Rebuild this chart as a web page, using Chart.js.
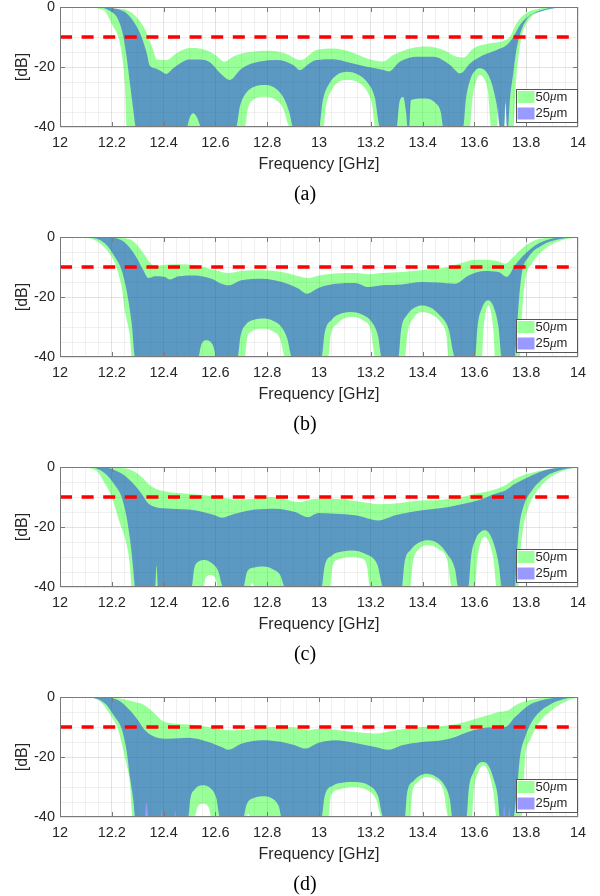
<!DOCTYPE html>
<html>
<head>
<meta charset="utf-8">
<script src="https://cdn.jsdelivr.net/npm/chart.js@4.4.1/dist/chart.umd.min.js"></script>
<style>
  body { margin: 0; background: #fff; }
  #page { position: relative; width: 600px; height: 896px; }
  .panel { position: absolute; left: 0; width: 600px; height: 230px; }
  .cap { position: absolute; left: 0; width: 610px; text-align: center;
         font: 20px "Liberation Serif", "Times New Roman", serif; line-height: 20px; color: #000; }
</style>
</head>
<body>
<div id="page"></div>
<script>
// axis ticks and labels
const xTicks = [12, 12.2, 12.4, 12.6, 12.8, 13, 13.2, 13.4, 13.6, 13.8, 14];
const yTicks = [0, -20, -40];
const specLevel = -10;               // dB, return-loss spec line
const panelLabels = ['(a)', '(b)', '(c)', '(d)'];
const seriesSizes = ['50', '25'];    // tolerance in um

// [frequency GHz, dB] envelopes, upper and lower edge of each band
const aGreenUp = [[12,0],[12.1,0],[12.15,-0.1],[12.2,-0.4],[12.257,-1],[12.3,-3.8],[12.33,-7.7],[12.34,-10],[12.36,-14.3],[12.373,-17.4],[12.41,-17.7],[12.45,-15.4],[12.5,-13.7],[12.55,-14],[12.6,-16],[12.635,-18.2],[12.67,-16.5],[12.72,-15.2],[12.81,-14.6],[12.87,-15.5],[12.93,-17.7],[12.99,-14.3],[13.056,-13.8],[13.12,-14.9],[13.184,-17.1],[13.245,-18.2],[13.287,-16],[13.352,-13.8],[13.416,-13.2],[13.48,-14.3],[13.532,-16.6],[13.557,-16.8],[13.596,-13.8],[13.66,-12.1],[13.71,-11.3],[13.737,-10],[13.763,-5.4],[13.8,-2.1],[13.853,-0.5],[13.9,-0.05],[14,0]];
const aGreenLow = [[12,0],[12.077,0],[12.167,-1],[12.206,-6.6],[12.225,-10],[12.238,-15.4],[12.251,-26.6],[12.257,-40],[12.714,-40],[12.725,-34],[12.745,-31],[12.79,-29.9],[12.83,-30.8],[12.86,-33.5],[12.888,-40],[13.017,-40],[13.027,-33],[13.05,-27.5],[13.075,-25],[13.107,-24.3],[13.15,-25],[13.185,-28],[13.205,-32.5],[13.217,-40],[13.583,-40],[13.592,-31],[13.608,-24.5],[13.622,-22.7],[13.638,-24],[13.652,-28],[13.665,-40],[13.688,-40],[13.692,-33],[13.696,-40],[13.717,-40],[13.721,-31],[13.726,-40],[13.75,-40],[13.76,-25.4],[13.77,-16.6],[13.782,-10],[13.815,-3.8],[13.879,-1],[13.98,0],[14,0]];
const aBlueUp = [[12,0],[12.15,0],[12.2,-0.3],[12.257,-2.1],[12.296,-6.5],[12.315,-10],[12.335,-15.4],[12.347,-19.6],[12.367,-20.4],[12.386,-21.2],[12.41,-22.3],[12.437,-20.4],[12.463,-18.8],[12.5,-17.5],[12.54,-17.5],[12.58,-18.5],[12.618,-22],[12.656,-24.3],[12.695,-21],[12.73,-19.2],[12.772,-18.2],[12.837,-17.7],[12.9,-19.3],[12.927,-21],[12.96,-19],[12.99,-17.7],[13.056,-17.4],[13.12,-18.6],[13.184,-19.9],[13.25,-21],[13.27,-21.5],[13.313,-18.2],[13.377,-16.6],[13.442,-16.6],[13.506,-19.3],[13.545,-22.1],[13.583,-18.8],[13.635,-16],[13.686,-14.3],[13.725,-12.7],[13.75,-10],[13.776,-6],[13.815,-2.7],[13.866,-0.8],[13.943,0],[14,0]];
const aBlueLow = [[12,0],[12.14,0],[12.19,-1.2],[12.225,-4.3],[12.245,-10],[12.257,-16.6],[12.27,-25.4],[12.283,-34.3],[12.293,-40],[12.49,-40],[12.5,-37],[12.515,-35.4],[12.53,-37],[12.545,-40],[12.68,-40],[12.695,-33],[12.72,-28.5],[12.75,-26.6],[12.79,-26],[12.83,-27],[12.865,-30.5],[12.885,-35],[12.9,-40],[13,-40],[13.015,-31],[13.04,-25.5],[13.07,-22.6],[13.107,-21.6],[13.15,-22.5],[13.19,-25.5],[13.215,-30],[13.236,-40],[13.3,-40],[13.31,-32],[13.325,-30],[13.336,-35],[13.342,-40],[13.348,-40],[13.355,-31],[13.4,-30.5],[13.45,-32],[13.47,-35],[13.48,-40],[13.557,-40],[13.567,-31],[13.585,-24],[13.605,-21],[13.622,-20.4],[13.645,-21.5],[13.665,-25],[13.685,-32],[13.7,-40],[13.715,-40],[13.72,-32],[13.725,-40],[13.73,-40],[13.737,-31],[13.75,-22.1],[13.76,-15.4],[13.773,-10],[13.8,-4.3],[13.853,-1.6],[13.943,-0.1],[14,0]];

const bGreenUp = [[12,0],[12.18,0],[12.24,-0.3],[12.277,-1.1],[12.31,-3.9],[12.328,-6.1],[12.347,-8.5],[12.367,-9.8],[12.39,-9.4],[12.444,-9.1],[12.495,-9.2],[12.547,-9.8],[12.6,-11.1],[12.65,-12],[12.7,-11.3],[12.78,-11.1],[12.856,-11.7],[12.933,-13.3],[12.96,-13.7],[13,-12.8],[13.062,-12.2],[13.14,-12],[13.19,-12.4],[13.242,-12],[13.32,-11.7],[13.41,-10.9],[13.5,-10],[13.55,-8.7],[13.603,-7.6],[13.68,-7.8],[13.72,-8.9],[13.744,-7.2],[13.783,-3.9],[13.834,-1.1],[13.912,-0.2],[14,0]];
const bGreenLow = [[12,0],[12.058,0],[12.135,-1.1],[12.187,-5],[12.212,-8.9],[12.238,-16.7],[12.25,-24.4],[12.27,-33.3],[12.277,-40],[12.714,-40],[12.722,-34],[12.74,-31.5],[12.78,-30.6],[12.82,-31.3],[12.85,-34],[12.869,-40],[13.036,-40],[13.045,-33],[13.07,-29],[13.127,-26.7],[13.17,-27.8],[13.2,-31],[13.217,-40],[13.332,-40],[13.342,-32],[13.365,-27],[13.397,-25],[13.435,-25.8],[13.47,-28.5],[13.492,-33],[13.5,-40],[13.629,-40],[13.635,-31],[13.645,-24.5],[13.654,-22.8],[13.663,-24.5],[13.673,-31],[13.68,-40],[13.776,-40],[13.783,-26.7],[13.796,-14.4],[13.822,-8.9],[13.873,-3.9],[13.937,-1.1],[14,-0.1]];
const bBlueUp = [[12,0],[12.17,0],[12.238,-1.1],[12.277,-4.4],[12.302,-7.8],[12.322,-11.1],[12.341,-13.7],[12.367,-13.1],[12.405,-13.3],[12.425,-14.2],[12.457,-13.1],[12.52,-12.8],[12.585,-13.9],[12.624,-15.6],[12.65,-16.1],[12.7,-14.4],[12.78,-13.9],[12.856,-15],[12.92,-17.2],[12.952,-18.9],[13,-16.9],[13.062,-15.6],[13.14,-15.3],[13.19,-16.7],[13.242,-16.1],[13.32,-15.8],[13.397,-15],[13.46,-15.2],[13.525,-15.6],[13.577,-12.8],[13.641,-11.3],[13.693,-11.7],[13.725,-13.3],[13.757,-9.4],[13.796,-5.6],[13.847,-2.2],[13.925,-0.2],[14,0]];
const bBlueLow = [[12,0],[12.11,-0.2],[12.174,-2.2],[12.212,-6.7],[12.238,-11.1],[12.257,-17.8],[12.277,-28.9],[12.29,-40],[12.534,-40],[12.545,-36],[12.566,-34.4],[12.59,-36],[12.605,-40],[12.686,-40],[12.697,-33],[12.72,-29],[12.75,-27.6],[12.785,-27.2],[12.82,-27.8],[12.855,-30],[12.878,-34],[12.895,-40],[13.01,-40],[13.022,-32],[13.05,-27.5],[13.085,-25.5],[13.127,-25],[13.17,-26],[13.205,-28.5],[13.228,-33],[13.242,-40],[13.307,-40],[13.317,-31],[13.34,-26],[13.37,-23.5],[13.397,-22.8],[13.43,-23.5],[13.465,-26],[13.5,-30.5],[13.526,-40],[13.603,-40],[13.612,-30],[13.63,-23.5],[13.654,-21.1],[13.675,-23.5],[13.693,-30],[13.706,-40],[13.757,-40],[13.764,-31],[13.773,-20],[13.783,-12.2],[13.809,-6.7],[13.86,-2.8],[13.937,-0.6],[14,0]];

const cGreenUp = [[12,0],[12.16,0],[12.212,-0.2],[12.277,-1.1],[12.315,-3.3],[12.341,-5.6],[12.367,-7.2],[12.418,-8.3],[12.495,-8.9],[12.56,-9.4],[12.624,-10.2],[12.689,-10.9],[12.753,-10.6],[12.817,-10],[12.87,-10.8],[12.927,-11.7],[12.985,-10.6],[13.062,-10.6],[13.14,-11.3],[13.242,-12.4],[13.294,-12.2],[13.371,-11.3],[13.474,-10.9],[13.551,-10],[13.603,-8.9],[13.667,-7.8],[13.719,-6.1],[13.757,-3.9],[13.809,-2.2],[13.873,-0.9],[13.937,-0.1],[14,0]];
const cGreenLow = [[12,0],[12.058,0],[12.135,-0.9],[12.174,-5.6],[12.2,-10],[12.212,-13.3],[12.232,-18.9],[12.25,-23.3],[12.264,-28.9],[12.27,-33.3],[12.277,-40],[12.553,-40],[12.562,-37],[12.58,-36],[12.6,-37],[12.611,-40],[12.733,-40],[12.742,-38.6],[12.752,-40],[13.043,-40],[13.052,-33],[13.075,-30.8],[13.127,-30],[13.165,-30.5],[13.185,-33],[13.197,-40],[13.352,-40],[13.362,-32],[13.385,-27.5],[13.423,-26.1],[13.46,-27.3],[13.495,-31],[13.513,-40],[13.603,-40],[13.61,-32],[13.625,-25],[13.641,-23.3],[13.656,-25],[13.674,-31],[13.686,-40],[13.77,-40],[13.776,-30],[13.789,-20],[13.809,-13.3],[13.834,-8.9],[13.886,-3.9],[13.95,-1.1],[14,-0.2]];
const cBlueUp = [[12,0],[12.16,0],[12.238,-2.2],[12.277,-5],[12.315,-8.9],[12.341,-12.2],[12.367,-13.3],[12.43,-13.9],[12.52,-14.4],[12.598,-16.1],[12.624,-16.9],[12.676,-15.6],[12.753,-14.2],[12.83,-13.9],[12.907,-15],[12.958,-16.7],[12.997,-15.3],[13.062,-15.6],[13.14,-16.1],[13.23,-17.8],[13.294,-16.1],[13.397,-14.4],[13.5,-13.3],[13.564,-12.2],[13.616,-11.1],[13.68,-8.9],[13.719,-7.8],[13.757,-5.6],[13.809,-3.3],[13.873,-1.1],[13.95,-0.1],[14,0]];
const cBlueLow = [[12,0],[12.122,-0.2],[12.174,-2.2],[12.212,-6.1],[12.238,-10],[12.257,-16.7],[12.274,-26.7],[12.283,-34.4],[12.29,-40],[12.368,-40],[12.373,-32.8],[12.378,-40],[12.508,-40],[12.518,-34],[12.535,-31.5],[12.558,-31],[12.585,-32],[12.61,-34.5],[12.63,-40],[12.708,-40],[12.722,-35],[12.75,-33.5],[12.785,-33.2],[12.82,-34],[12.85,-36],[12.869,-40],[13.01,-40],[13.022,-33],[13.05,-29.5],[13.09,-28.2],[13.127,-27.8],[13.18,-29],[13.225,-32.5],[13.249,-40],[13.32,-40],[13.33,-32],[13.355,-27.5],[13.39,-25],[13.423,-24.4],[13.46,-25.5],[13.495,-29],[13.525,-34],[13.538,-40],[13.577,-40],[13.587,-30],[13.605,-24],[13.625,-21.6],[13.641,-21.1],[13.66,-22.5],[13.68,-27],[13.695,-33],[13.706,-40],[13.757,-40],[13.764,-28.9],[13.773,-20],[13.789,-13.3],[13.822,-7.8],[13.873,-3.3],[13.937,-0.9],[14,-0.1]];

const dGreenUp = [[12,0],[12.18,0],[12.238,-0.6],[12.29,-1.7],[12.328,-2.8],[12.367,-5.6],[12.393,-7.8],[12.418,-8.6],[12.495,-9.2],[12.56,-9.8],[12.624,-10.9],[12.676,-11.1],[12.753,-10.6],[12.83,-10],[12.907,-10.2],[12.958,-11.1],[12.997,-10.6],[13.062,-10.9],[13.14,-11.7],[13.217,-12.2],[13.294,-11.1],[13.397,-10],[13.5,-9.4],[13.564,-8.3],[13.628,-6.7],[13.693,-5],[13.731,-4.4],[13.757,-2.8],[13.809,-1.1],[13.873,-0.3],[13.94,0],[14,0]];
const dGreenLow = [[12,0],[12.084,0],[12.148,-1.1],[12.2,-6.7],[12.225,-11.1],[12.25,-20],[12.27,-28.9],[12.28,-40],[12.328,-40],[12.333,-35],[12.337,-37],[12.341,-40],[12.39,-40],[12.393,-37.5],[12.396,-40],[12.442,-40],[12.445,-38],[12.448,-40],[12.52,-40],[12.53,-37],[12.552,-35.6],[12.575,-37],[12.585,-40],[12.72,-40],[12.727,-38.9],[12.735,-40],[13.036,-40],[13.046,-33],[13.075,-30.8],[13.133,-30],[13.185,-31],[13.22,-34],[13.242,-40],[13.352,-40],[13.36,-32],[13.38,-28.5],[13.416,-26.7],[13.45,-27.7],[13.48,-31],[13.5,-40],[13.59,-40],[13.598,-31],[13.615,-25],[13.635,-22.8],[13.652,-24.5],[13.672,-31],[13.686,-40],[13.712,-40],[13.715,-36],[13.718,-40],[13.732,-40],[13.735,-37],[13.738,-40],[13.783,-40],[13.789,-31.1],[13.796,-20],[13.815,-14.4],[13.847,-8.9],[13.899,-4.4],[13.963,-1.1],[14,-0.2]];
const dBlueUp = [[12,0],[12.148,0],[12.225,-1.1],[12.264,-3.9],[12.302,-7.8],[12.328,-11.1],[12.367,-13.3],[12.418,-13.9],[12.495,-13.6],[12.573,-15],[12.624,-16.7],[12.65,-17.6],[12.7,-15.6],[12.78,-14.4],[12.856,-15],[12.907,-16.1],[12.946,-17.2],[12.997,-15.3],[13.062,-14.4],[13.14,-15.3],[13.217,-16.7],[13.268,-17.6],[13.32,-16.1],[13.397,-15],[13.474,-14.4],[13.526,-13.3],[13.577,-11.6],[13.654,-10.2],[13.719,-10],[13.757,-6.7],[13.809,-2.8],[13.86,-1.1],[13.925,-0.2],[14,0]];
const dBlueLow = [[12,0],[12.11,-0.2],[12.174,-2.2],[12.212,-6.7],[12.238,-10.6],[12.257,-17.8],[12.27,-26.7],[12.283,-34.4],[12.29,-40],[12.495,-40],[12.503,-34],[12.52,-30.8],[12.55,-29.4],[12.58,-30.3],[12.603,-33.5],[12.618,-40],[12.708,-40],[12.72,-36],[12.75,-33.6],[12.79,-33.1],[12.825,-34.2],[12.845,-36.5],[12.856,-40],[13.01,-40],[13.022,-33],[13.055,-29.5],[13.095,-28.5],[13.133,-28.3],[13.19,-29.3],[13.228,-33],[13.249,-40],[13.332,-40],[13.34,-32],[13.365,-28],[13.39,-26.2],[13.416,-25.6],[13.45,-26.5],[13.485,-29.5],[13.505,-34],[13.515,-40],[13.57,-40],[13.578,-31],[13.597,-25],[13.615,-22.3],[13.635,-21.7],[13.655,-23],[13.675,-27.5],[13.69,-33],[13.698,-40],[13.751,-40],[13.764,-31.1],[13.776,-20],[13.796,-13.3],[13.834,-6.7],[13.886,-2.8],[13.95,-0.6],[14,0]];

const panels = [
  { label: panelLabels[0], green: [aGreenUp, aGreenLow], blue: [aBlueUp, aBlueLow] },
  { label: panelLabels[1], green: [bGreenUp, bGreenLow], blue: [bBlueUp, bBlueLow] },
  { label: panelLabels[2], green: [cGreenUp, cGreenLow], blue: [cBlueUp, cBlueLow] },
  { label: panelLabels[3], green: [dGreenUp, dGreenLow], blue: [dBlueUp, dBlueLow] },
];

const GREEN = 'rgba(0, 255, 0, 0.4)';
const BLUE = 'rgba(0, 0, 255, 0.4)';
const SANS = '"Liberation Sans", Arial, Helvetica, sans-serif';
const TEXT = '#262626';

Chart.defaults.font.family = SANS;
Chart.defaults.color = TEXT;

// minor grid every 0.05 GHz / 5 dB, labels only on the major ticks
const xGrid = Array.from({ length: 41 }, (_, i) => +(12 + i * 0.05).toFixed(2));
const yGrid = Array.from({ length: 9 }, (_, i) => -40 + i * 5);
const near = (list, v) => list.some(t => Math.abs(t - v) < 1e-6);

const toXY = pts => pts.map(([x, y]) => ({ x, y }));

// box, inward tick marks and the legend, MATLAB style
const frame = {
  id: 'frame',
  afterDatasetsDraw(chart) {
    const { ctx, chartArea: a, scales: { x, y } } = chart;
    ctx.save();
    ctx.strokeStyle = '#7a7a7a';
    ctx.lineWidth = 1;
    ctx.beginPath();
    xTicks.slice(1, -1).forEach(v => {
      const px = Math.round(x.getPixelForValue(v)) + 0.5;
      ctx.moveTo(px, a.bottom); ctx.lineTo(px, a.bottom - 5);
      ctx.moveTo(px, a.top); ctx.lineTo(px, a.top + 5);
    });
    yTicks.slice(1, -1).forEach(v => {
      const py = Math.round(y.getPixelForValue(v)) + 0.5;
      ctx.moveTo(a.left, py); ctx.lineTo(a.left + 5, py);
      ctx.moveTo(a.right, py); ctx.lineTo(a.right - 5, py);
    });
    ctx.stroke();
    ctx.strokeRect(a.left + 0.5, a.top + 0.5, a.right - a.left - 1, a.bottom - a.top - 1);
    ctx.restore();
  },
  afterDraw(chart) {
    const { ctx, chartArea: a } = chart;
    const left = a.right - 62, top = a.bottom - 38;
    ctx.save();
    ctx.fillStyle = '#fff';
    ctx.fillRect(left, top, 62, 34);
    ctx.strokeStyle = '#555';
    ctx.lineWidth = 1;
    ctx.strokeRect(left + 0.5, top + 0.5, 61, 33);
    ctx.textBaseline = 'middle';
    seriesSizes.forEach((size, i) => {
      const cy = top + 8 + i * 16.5;
      ctx.fillStyle = i === 0 ? GREEN : BLUE;
      ctx.fillRect(left + 1.5, cy - 6, 17, 12);
      ctx.fillStyle = TEXT;
      let tx = left + 19.5;
      ctx.font = '13px ' + SANS;
      ctx.fillText(size, tx, cy);
      tx += ctx.measureText(size).width;
      ctx.font = 'italic 13px "Liberation Serif", serif';
      ctx.fillText('\u03bc', tx, cy);
      tx += ctx.measureText('\u03bc').width;
      ctx.font = '13px ' + SANS;
      ctx.fillText('m', tx, cy);
    });
    ctx.restore();
  }
};

function makePanel(p, i) {
  const page = document.getElementById('page');
  const canvas = document.createElement('canvas');
  canvas.className = 'panel';
  canvas.width = 600;
  canvas.height = 230;
  canvas.style.top = (i * 230) + 'px';
  page.appendChild(canvas);

  const cap = document.createElement('div');
  cap.className = 'cap';
  cap.style.top = (i * 230 + 183) + 'px';
  cap.textContent = p.label;
  page.appendChild(cap);

  const band = { borderWidth: 0, pointRadius: 0, cubicInterpolationMode: 'monotone' };

  new Chart(canvas, {
    type: 'line',
    data: {
      datasets: [
        { data: [{ x: 12, y: specLevel }, { x: 14, y: specLevel }], borderColor: '#ff0000',
          borderWidth: 3.5, borderDash: [12, 9.6], pointRadius: 0, fill: false },
        { ...band, data: toXY(p.blue[0]), fill: '+1', backgroundColor: BLUE },
        { ...band, data: toXY(p.blue[1]), fill: false },
        { ...band, data: toXY(p.green[0]), fill: '+1', backgroundColor: GREEN },
        { ...band, data: toXY(p.green[1]), fill: false },
      ]
    },
    options: {
      responsive: false,
      animation: false,
      devicePixelRatio: 1,
      events: [],
      layout: { padding: { left: 0, right: 22, top: 7, bottom: 0 } },
      plugins: { legend: { display: false }, tooltip: { enabled: false } },
      scales: {
        x: {
          type: 'linear', min: 12, max: 14,
          afterBuildTicks: s => { s.ticks = xGrid.map(value => ({ value })); },
          afterFit: s => { s.height = 103; s.paddingLeft = 0; s.paddingRight = 0; },
          ticks: {
            autoSkip: false, maxRotation: 0, padding: 7,
            font: { size: 14.5 }, color: TEXT,
            callback: v => near(xTicks, v) ? String(+v.toFixed(1)) : ''
          },
          grid: {
            drawTicks: false,
            color: c => c.tick && near(xTicks, c.tick.value) ? 'rgba(0,0,0,0.11)' : 'rgba(0,0,0,0.06)'
          },
          border: { display: false },
          title: { display: true, text: 'Frequency [GHz]', color: TEXT,
                   font: { size: 16 }, padding: { top: 0, bottom: 56 } }
        },
        y: {
          type: 'linear', min: -40, max: 0,
          afterBuildTicks: s => { s.ticks = yGrid.map(value => ({ value })); },
          afterFit: s => { s.width = 60; s.paddingTop = 0; s.paddingBottom = 0; },
          ticks: {
            autoSkip: false, padding: 5, font: { size: 14.5 }, color: TEXT,
            callback: v => near(yTicks, v) ? String(v) : ''
          },
          grid: {
            drawTicks: false,
            color: c => c.tick && near(yTicks, c.tick.value) ? 'rgba(0,0,0,0.11)' : 'rgba(0,0,0,0.06)'
          },
          border: { display: false },
          title: { display: true, text: '[dB]', color: TEXT,
                   font: { size: 16 }, padding: { top: 13, bottom: 0 } }
        }
      }
    },
    plugins: [frame]
  });
}

panels.forEach(makePanel);
</script>
</body>
</html>
